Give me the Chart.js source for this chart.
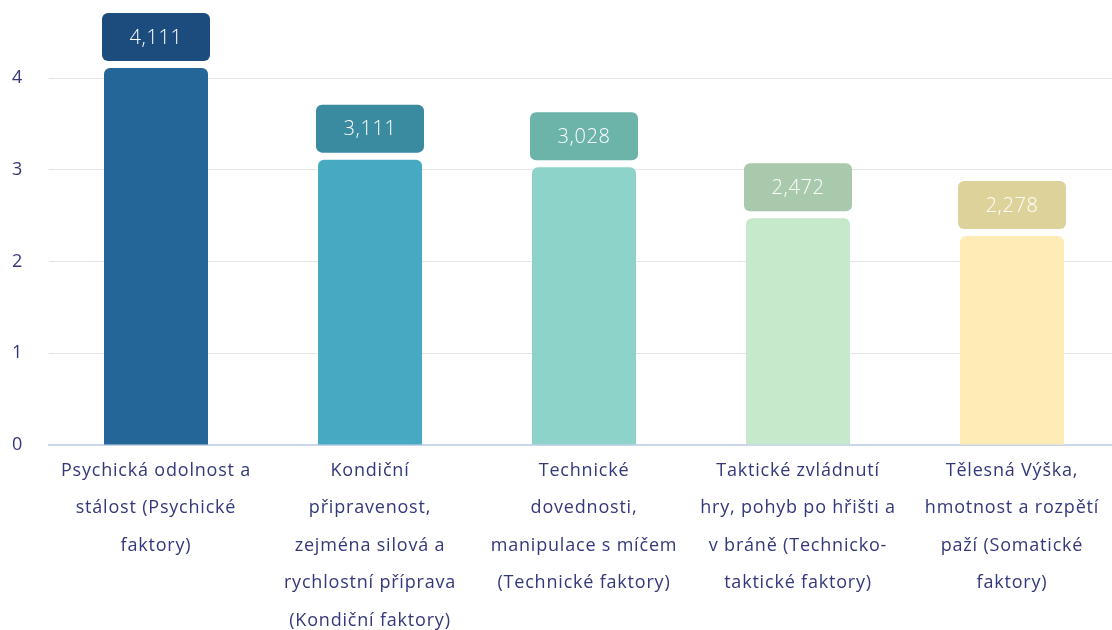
<!DOCTYPE html>
<html>
<head>
<meta charset="utf-8">
<script src="https://cdn.jsdelivr.net/npm/chart.js@4.4.1/dist/chart.umd.min.js"></script>
<style>
html,body{margin:0;padding:0;background:#fff;overflow:hidden;}
#wrap{position:absolute;left:0;top:0;width:1120px;height:630px;}
</style>
</head>
<body>
<div id="wrap"><canvas id="c"></canvas></div>
<script>
const categories = [
  ["Psychická odolnost a", "stálost (Psychické", "faktory)"],
  ["Kondiční", "připravenost,", "zejména silová a", "rychlostní příprava", "(Kondiční faktory)"],
  ["Technické", "dovednosti,", "manipulace s míčem", "(Technické faktory)"],
  ["Taktické zvládnutí", "hry, pohyb po hřišti a", "v bráně (Technicko-", "taktické faktory)"],
  ["Tělesná Výška,", "hmotnost a rozpětí", "paží (Somatické", "faktory)"]
];
const values = [4.111, 3.111, 3.028, 2.472, 2.278];
const valueLabels = ["4,111", "3,111", "3,028", "2,472", "2,278"];
const yTicks = [0, 1, 2, 3, 4];
const barColors = ["#256698", "#48a9c2", "#8dd3c9", "#c6e8cb", "#fdecb5"];
const boxColors = ["#1c4b7d", "#3a8aa0", "#6cb3aa", "#a9c9ad", "#ddd29a"];

const FONT = "'Open Sans', sans-serif";
const TEXT = "#33387a";

const spacing = {
  id: 'spacing',
  beforeDraw(chart) { chart.ctx.letterSpacing = '0.8px'; }
};

const labelBoxes = {
  id: 'labelBoxes',
  afterDatasetsDraw(chart) {
    const ctx = chart.ctx;
    const meta = chart.getDatasetMeta(0);
    meta.data.forEach((bar, i) => {
      const w = bar.width + 4;
      const h = 48;
      const x = bar.x - w / 2;
      const y = bar.y - 7 - h;
      ctx.save();
      ctx.fillStyle = boxColors[i];
      ctx.beginPath();
      ctx.roundRect(x, y, w, h, 6);
      ctx.fill();
      ctx.fillStyle = "#ffffff";
      ctx.font = "300 20px " + FONT;
      ctx.letterSpacing = '0.6px';
      ctx.textAlign = "center";
      ctx.textBaseline = "middle";
      ctx.fillText(valueLabels[i], bar.x, y + h / 2 + 1);
      ctx.restore();
    });
  }
};

new Chart(document.getElementById('c'), {
  type: 'bar',
  data: {
    labels: categories,
    datasets: [{
      data: values,
      backgroundColor: barColors,
      borderRadius: {topLeft: 6, topRight: 6, bottomLeft: 0, bottomRight: 0},
      borderSkipped: false,
      categoryPercentage: 1,
      barPercentage: 0.486
    }]
  },
  options: {
    responsive: true,
    maintainAspectRatio: false,
    animation: false,
    layout: {padding: {top: 0, right: 1, left: 0, bottom: 0}},
    plugins: {legend: {display: false}, tooltip: {enabled: false}},
    scales: {
      x: {
        grid: {display: false, drawTicks: false},
        border: {display: true, color: "#c9d5ea", width: 2},
        ticks: {
          autoSkip: false, maxRotation: 0, minRotation: 0,
          padding: 7,
          color: TEXT,
          font: {family: FONT, size: 18, lineHeight: 2.08}
        },
        afterFit(scale) { scale.height = 185; }
      },
      y: {
        min: 0, max: 4.45,
        grid: {color: "#e4e4e4", lineWidth: 1, drawTicks: false},
        border: {display: false},
        ticks: {
          stepSize: 1, padding: 26, color: TEXT,
          font: {family: FONT, size: 18}
        },
        afterBuildTicks(scale) {
          scale.ticks = yTicks.map(v => ({value: v}));
        },
        afterFit(scale) { scale.width = 49; }
      }
    }
  },
  plugins: [spacing, labelBoxes]
});
</script>
</body>
</html>
